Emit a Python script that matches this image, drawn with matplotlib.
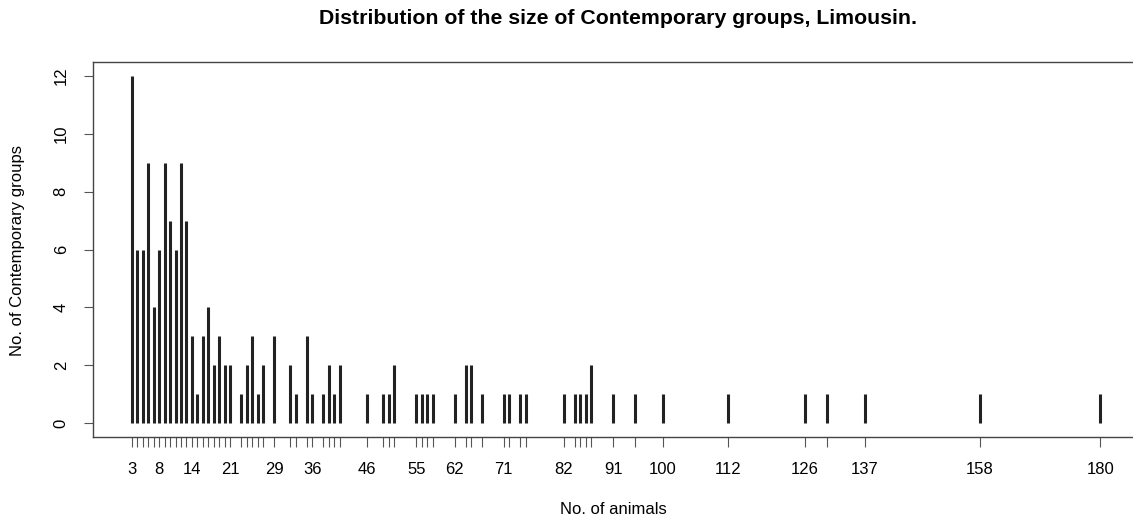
import matplotlib
matplotlib.use("Agg")
import matplotlib.pyplot as plt

sizes = [3, 4, 5, 6, 7, 8, 9, 10, 11, 12, 13, 14, 15, 16, 17, 18, 19, 20, 21,
         23, 24, 25, 26, 27, 29, 32, 33, 35, 36, 38, 39, 40, 41,
         46, 49, 50, 51, 55, 56, 57, 58, 62, 64, 65, 67, 71, 72, 74, 75,
         82, 84, 85, 86, 87, 91, 95, 100, 112, 126, 130, 137, 158, 180]
counts = [12, 6, 6, 9, 4, 6, 9, 7, 6, 9, 7, 3, 1, 3, 4, 2, 3, 2, 2,
          1, 2, 3, 1, 2, 3, 2, 1, 3, 1, 1, 2, 1, 2,
          1, 1, 1, 2, 1, 1, 1, 1, 1, 2, 2, 1, 1, 1, 1, 1,
          1, 1, 1, 1, 2, 1, 1, 1, 1, 1, 1, 1, 1, 1]
shown_labels = [3, 8, 14, 21, 29, 36, 46, 55, 62, 71, 82, 91, 100, 112, 126, 137, 158, 180]
y_ticks = [0, 2, 4, 6, 8, 10, 12]

title = "Distribution of the size of Contemporary groups, Limousin."
xlabel = "No. of animals"
ylabel = "No. of Contemporary groups"

plt.rcParams['font.family'] = ['Liberation Sans', 'DejaVu Sans']

W, H = 1133, 523
fig = plt.figure(figsize=(W / 100, H / 100), dpi=100)
left, right, top, bottom = 93, 1139, 62, 437
ax = fig.add_axes([left / W, (H - bottom) / H, (right - left) / W, (bottom - top) / H])

ax.vlines(sizes, 0, counts, colors="#222222", linewidth=2.2)

span = max(sizes) - min(sizes)
ax.set_xlim(min(sizes) - 0.04 * span, max(sizes) + 0.04 * span)
ax.set_ylim(-0.04 * 12, 12 + 0.04 * 12)

ax.set_xticks(sizes)
ax.set_xticklabels([str(s) if s in shown_labels else "" for s in sizes])
ax.set_yticks(y_ticks)
ax.set_yticklabels([str(v) for v in y_ticks], rotation=90, va="center")

ax.tick_params(axis="x", length=7, width=0.8, color="#555555", labelsize=12, pad=11)
ax.tick_params(axis="y", length=6.5, width=0.8, color="#555555", labelsize=12, pad=11)

for s in ax.spines.values():
    s.set_color("#444444")
    s.set_linewidth(1.0)

fig.text(618 / W, 1 - 18 / H, title, ha="center", va="center", fontsize=15.3, fontweight="bold")
fig.text(613 / W, 1 - 510 / H, xlabel, ha="center", va="center", fontsize=12)
fig.text(18 / W, 1 - 250 / H, ylabel, ha="center", va="center", fontsize=12, rotation=90)

fig.savefig("out.png", dpi=100)
